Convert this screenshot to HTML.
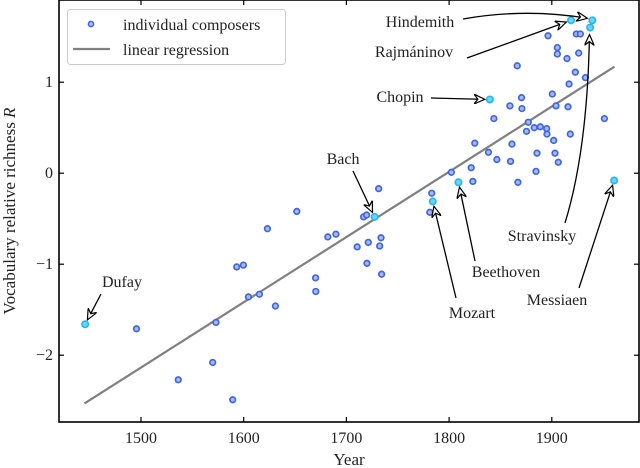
<!DOCTYPE html>
<html><head><meta charset="utf-8"><style>
html,body{margin:0;padding:0;background:#fff;}
svg{display:block;font-family:"Liberation Serif",serif;}
</style></head><body>
<svg id="chart" width="640" height="468" viewBox="0 0 640 468" xmlns="http://www.w3.org/2000/svg">
<defs>
<marker id="ah" viewBox="0 0 12 10" refX="11" refY="5" markerWidth="12" markerHeight="10" markerUnits="userSpaceOnUse" orient="auto">
<path d="M0,0 L11,5 L0,10 L4,5 Z" fill="#fff" stroke="#000" stroke-width="1.2"/>
</marker>
</defs>
<g id="plot"></g>
</svg>
<script>
const years = [1445.6,1495.6,1536.3,1569.8,1573,1589.3,1593.2,1599.7,1604.6,1615.3,1623.1,1630.9,1651.7,1670,1670.2,1681.9,1689.8,1710.5,1716.8,1719.7,1727.5,1721.3,1731.4,1720,1733.7,1732.4,1734.3,1781.2,1783.1,1784.1,1802.2,1809.1,1821.5,1823.1,1825,1838.3,1839.7,1843.6,1846.5,1859.2,1859.8,1861.2,1866.3,1867,1870.5,1870.9,1875.4,1877.1,1882.9,1884.6,1885.6,1888.8,1895,1895.3,1896.3,1900.5,1901.8,1903.1,1904.1,1905.4,1905.4,1906.3,1914.8,1915.8,1916.8,1918.7,1918,1922.9,1923.9,1927.8,1926.2,1932.7,1937.3,1939.5,1951.2,1960.7];
const richness = [-1.66,-1.71,-2.27,-2.08,-1.64,-2.49,-1.03,-1.01,-1.36,-1.33,-0.61,-1.46,-0.42,-1.15,-1.30,-0.70,-0.67,-0.81,-0.48,-0.46,-0.48,-0.76,-0.17,-0.99,-0.71,-0.80,-1.11,-0.43,-0.22,-0.31,0.01,-0.10,0.06,-0.09,0.33,0.23,0.81,0.60,0.15,0.74,0.13,0.32,1.18,-0.10,0.83,0.71,0.46,0.56,0.50,0.02,0.22,0.51,0.49,0.43,1.51,0.87,0.36,0.22,0.74,1.38,1.31,0.12,1.26,0.73,0.98,1.68,0.43,1.11,1.53,1.53,1.32,1.05,1.60,1.68,0.60,-0.08];
const highlighted = [0,20,29,31,36,65,72,73,75];
const regYears = [1445,1961];
const regValues = [-2.53,1.17];
const xTicks = [1500,1600,1700,1800,1900];
const yTicks = [1,0,-1,-2];
const yTickLabels = ["1","0","\u22121","\u22122"];
// annotations: name, text x/y, arrow start, target point index
const annNames = ["Dufay","Bach","Chopin","Hindemith","Rajmáninov","Stravinsky","Beethoven","Mozart","Messiaen"];
const annTargets = [0,20,36,73,65,72,31,29,75];

const X0=59,X1=639,Y0=0,Y1=422;
function sx(y){return 141+(y-1500)*1.027;}
function sy(r){return 173.2-r*91;}
const NS="http://www.w3.org/2000/svg";
const g=document.getElementById('plot');
function el(t,a,p){const e=document.createElementNS(NS,t);for(const k in a)e.setAttribute(k,a[k]);(p||g).appendChild(e);return e;}

// regression
const rl=el('line',{x1:sx(regYears[0]),y1:sy(regValues[0]),x2:sx(regYears[1]),y2:sy(regValues[1]),stroke:'#808080','stroke-width':2.2});



// points
years.forEach((yr,i)=>{
  const hi=highlighted.includes(i);
  const c=el('circle',{cx:sx(yr),cy:sy(richness[i]),r:hi?3.2:2.8,fill:hi?'#6fd3f5':'#a8b8f0',stroke:hi?'#22b8ee':'#3f66e0','stroke-width':hi?1.6:1.7});
  
  
});

// annotations
const annText=[[122,287],[343,164],[400,102],[420,27],[414,57],[542,241],[506,277],[472,318],[557,305]];
const annStart=[[101,294],[353,171],[431,98],[463,19],[467,58],[565,223],[475,261],[456,298],[579,288]];
annNames.forEach((n,i)=>{
  const t=annTargets[i];
  const tx=sx(years[t]),ty=sy(richness[t]);
  const s=annStart[i];
  const dx=tx-s[0],dy=ty-s[1],L=Math.hypot(dx,dy);
  const ex=tx-dx/L*5,ey=ty-dy/L*5;
  let d;
  if(n==="Stravinsky"){d=`M${s[0]},${s[1]} Q${ex-2},${150} ${ex},${ey+2}`;}
  else if(n==="Hindemith"){d=`M${s[0]},${s[1]} Q${(s[0]+ex)/2},${8} ${ex},${ey-2}`;}
  else d=`M${s[0]},${s[1]} L${ex},${ey}`;
  const p=el('path',{d:d,fill:'none',stroke:'#000','stroke-width':1.3,'marker-end':'url(#ah)'});
  
  
  const tt=el('text',{x:annText[i][0],y:annText[i][1],'text-anchor':'middle','font-size':16,fill:'#222'});
  tt.textContent=n;
  
  
});

// axes frame
const fr=el('rect',{x:X0,y:Y0,width:X1-X0,height:Y1-Y0,fill:'none',stroke:'#000','stroke-width':1.6});


xTicks.forEach(v=>{
  const x=sx(v);
  el('line',{x1:x,y1:Y1,x2:x,y2:Y1-5,stroke:'#000','stroke-width':1.2});
  el('line',{x1:x,y1:Y0,x2:x,y2:Y0+5,stroke:'#000','stroke-width':1.2});
  const t=el('text',{x:x,y:443,'text-anchor':'middle','font-size':16,fill:'#222'});
  t.textContent=v;
  
  
});
yTicks.forEach((v,i)=>{
  const y=sy(v);
  el('line',{x1:X0,y1:y,x2:X0+5,y2:y,stroke:'#000','stroke-width':1.2});
  el('line',{x1:X1,y1:y,x2:X1-5,y2:y,stroke:'#000','stroke-width':1.2});
  const t=el('text',{x:53,y:y+5,'text-anchor':'end','font-size':16,fill:'#222'});
  t.textContent=yTickLabels[i];
  
  
});
const xt=el('text',{x:349,y:465,'text-anchor':'middle','font-size':17,fill:'#222'});
xt.textContent='Year';


const yt=el('text',{x:0,y:0,transform:'translate(15,211) rotate(-90)','text-anchor':'middle','font-size':17,fill:'#222'});
yt.innerHTML='Vocabulary relative richness <tspan font-style="italic">R</tspan>';



// legend
const lg=el('g',{});


el('rect',{x:67.5,y:9.5,width:218,height:55,rx:3,fill:'#fff',stroke:'#ccc','stroke-width':1},lg);
el('circle',{cx:91,cy:24,r:2.6,fill:'#a8b8f0',stroke:'#3f66e0','stroke-width':1.5},lg);
el('line',{x1:73,y1:49,x2:110,y2:49,stroke:'#808080','stroke-width':2.2},lg);
const l1=el('text',{x:123,y:30,'font-size':16,fill:'#222'},lg);l1.textContent='individual composers';


const l2=el('text',{x:123,y:55,'font-size':16,fill:'#222'},lg);l2.textContent='linear regression';


</script>
</body></html>
